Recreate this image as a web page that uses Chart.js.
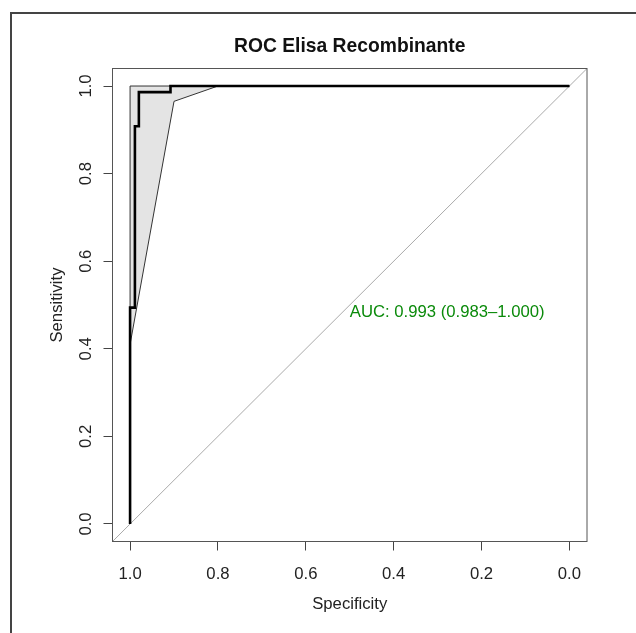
<!DOCTYPE html>
<html>
<head>
<meta charset="utf-8">
<script src="https://cdn.jsdelivr.net/npm/chart.js@4.4.1/dist/chart.umd.min.js"></script>
<style>
html,body{margin:0;padding:0;background:#fff;}
#wrap{width:636px;height:633px;position:relative;}
</style>
</head>
<body>
<div id="wrap"><canvas id="c" width="636" height="633"></canvas></div>
<script>
// ---- data ----
const titleText = "ROC Elisa Recombinante";
const xLabel = "Specificity";
const yLabel = "Sensitivity";
const xTicks = [1.0, 0.8, 0.6, 0.4, 0.2, 0.0];
const yTicks = [0.0, 0.2, 0.4, 0.6, 0.8, 1.0];
// ROC curve (specificity, sensitivity)
const rocSpec = [1.0, 1.0, 0.989, 0.989, 0.980, 0.980, 0.908, 0.908, 0.0];
const rocSens = [0.0, 0.494, 0.494, 0.908, 0.908, 0.986, 0.986, 1.0, 1.0];
// CI shape for sensitivity
const ciSpec = [1.0, 1.0, 0.0, 0.8, 0.9, 1.0];
const ciSens = [0.41, 1.0, 1.0, 1.0, 0.965, 0.41];
// identity line
const diagSpec = [1.04, -0.04];
const diagSens = [-0.04, 1.04];
const aucText = "AUC: 0.993 (0.983\u20131.000)";
const aucPos = [0.5, 0.484];

const pts = (xs, ys) => xs.map((x, i) => ({x: x, y: ys[i]}));
const FONT = "'Liberation Sans', Arial, sans-serif";
const FS = 16.7;

const rPlugin = {
  id: 'rstyle',
  afterDraw(chart) {
    const ctx = chart.ctx;
    const a = chart.chartArea;
    const xs = chart.scales.x, ys = chart.scales.y;
    ctx.save();
    // outer frame
    ctx.strokeStyle = '#444';
    ctx.lineWidth = 2;
    ctx.beginPath();
    ctx.moveTo(11, 640); ctx.lineTo(11, 13); ctx.lineTo(640, 13);
    ctx.stroke();
    // plot box
    ctx.strokeStyle = '#555';
    ctx.lineWidth = 1;
    ctx.strokeRect(a.left, a.top, a.right - a.left, a.bottom - a.top);
    // title
    ctx.fillStyle = '#111';
    ctx.font = "bold 19.3px " + FONT;
    ctx.textAlign = 'center';
    ctx.textBaseline = 'middle';
    ctx.fillText(titleText, (a.left + a.right) / 2, 47);
    // y tick labels rotated
    ctx.font = FS + "px " + FONT;
    ctx.fillStyle = '#222';
    yTicks.forEach(v => {
      const py = ys.getPixelForValue(v);
      ctx.save();
      ctx.translate(86, py);
      ctx.rotate(-Math.PI / 2);
      ctx.textAlign = 'center';
      ctx.textBaseline = 'middle';
      ctx.fillText(v.toFixed(1), 0, 0);
      ctx.restore();
    });
    // AUC text
    ctx.fillStyle = '#0a8a0a';
    ctx.textAlign = 'left';
    ctx.textBaseline = 'middle';
    ctx.fillText(aucText, xs.getPixelForValue(aucPos[0]), ys.getPixelForValue(aucPos[1]));
    ctx.restore();
  }
};

new Chart(document.getElementById('c'), {
  type: 'scatter',
  data: {
    datasets: [
      {
        label: 'ROC',
        data: pts(rocSpec, rocSens),
        showLine: true,
        borderColor: '#000',
        borderWidth: 2.6,
        pointRadius: 0,
        fill: false,
        tension: 0
      },
      {
        label: 'CI',
        data: pts(ciSpec, ciSens),
        showLine: true,
        borderColor: '#333',
        borderWidth: 1,
        backgroundColor: '#e4e4e4',
        pointRadius: 0,
        fill: 'shape',
        tension: 0
      },
      {
        label: 'identity',
        data: pts(diagSpec, diagSens),
        showLine: true,
        borderColor: '#aaaaaa',
        borderWidth: 1,
        pointRadius: 0,
        fill: false
      }
    ]
  },
  options: {
    responsive: false,
    animation: false,
    devicePixelRatio: 1,
    layout: { padding: { top: 68.5, right: 49, left: 0, bottom: 0 } },
    plugins: { legend: { display: false }, tooltip: { enabled: false }, title: { display: false } },
    scales: {
      x: {
        type: 'linear',
        reverse: true,
        min: -0.04,
        max: 1.04,
        afterBuildTicks: s => { s.ticks = xTicks.map(v => ({value: v})); },
        afterFit: s => { s.height = 91.5; },
        border: { display: false },
        grid: { display: true, drawOnChartArea: false, drawTicks: true, tickLength: 9, color: '#444', lineWidth: 1 },
        ticks: { color: '#222', font: { family: FONT, size: FS }, padding: 14, maxRotation: 0, minRotation: 0, callback: v => Number(v).toFixed(1) },
        title: { display: true, text: xLabel, color: '#222', font: { family: FONT, size: FS }, padding: { top: 0, bottom: 19 } }
      },
      y: {
        type: 'linear',
        min: -0.04,
        max: 1.04,
        afterBuildTicks: s => { s.ticks = yTicks.map(v => ({value: v})); },
        afterFit: s => { s.width = 112.5; },
        border: { display: false },
        grid: { display: true, drawOnChartArea: false, drawTicks: true, tickLength: 9, color: '#444', lineWidth: 1 },
        ticks: { display: false },
        title: { display: true, text: yLabel, color: '#222', font: { family: FONT, size: FS }, padding: { top: 47, bottom: 0 } }
      }
    }
  },
  plugins: [rPlugin]
});
</script>
</body>
</html>
